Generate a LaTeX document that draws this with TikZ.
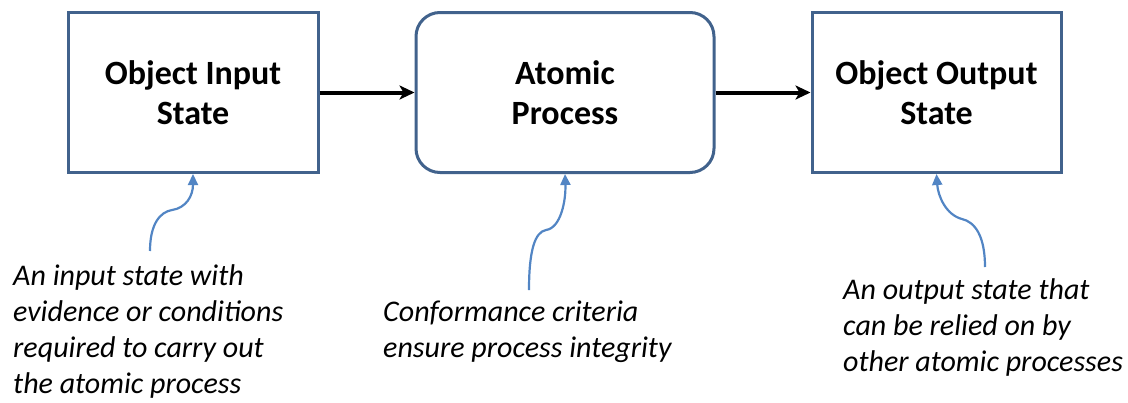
\documentclass[tikz,border=0pt]{standalone}
\usepackage{fontspec}
\setmainfont{Carlito}
\usetikzlibrary{arrows.meta}
\definecolor{boxline}{HTML}{41628C}
\definecolor{notearrow}{HTML}{5285C4}
\tikzset{
  statebox/.style={draw=boxline, line width=3pt, fill=white, minimum height=160pt,
    align=center, inner sep=0pt, font=\fontsize{34}{40}\selectfont\bfseries},
  flow/.style={line width=4pt, -{Stealth[length=15pt,width=14pt,inset=4pt]}},
  note/.style={anchor=north west, align=left, inner sep=0pt,
    font=\fontsize{30}{36}\selectfont\itshape},
  pointer/.style={draw=notearrow, line width=2.2pt, -{Triangle[length=11pt,width=10pt]}}
}
\begin{document}
\begin{tikzpicture}[x=1pt,y=-1pt]
\useasboundingbox (0,0) rectangle (1128,402);

% process chain
\node[statebox, minimum width=250pt] (in) at (193,92.5) {Object Input\\State};
\node[statebox, minimum width=298pt, rounded corners=24pt] (proc) at (565,92.5) {Atomic\\Process};
\node[statebox, minimum width=249pt] (out) at (936.5,92.5) {Object Output\\State};

\draw[flow] (in.east) -- (proc.west);
\draw[flow] (proc.east) -- (out.west);

% explanatory notes
\node[note] (nin) at (13,264) {An input state with\\evidence or conditions\\required to carry out\\the atomic process};
\node[note] (nproc) at (383,301) {Conformance criteria\\ensure process integrity};
\node[note] (nout) at (843,278) {An output state that\\can be relied on by\\other atomic processes};

% curly pointers from the notes to the boxes
\coordinate (pin) at (150,251);
\coordinate (pproc) at (529,290);
\coordinate (pout) at (985,267);

\draw[pointer] (pin) .. controls (150,224) and (160,212) .. (172,210)
  .. controls (186,208) and (193,196) .. (in.south);
\draw[pointer] (pproc) .. controls (529,250) and (535,232) .. (546,230)
  .. controls (561,228) and (566,200) .. (proc.south);
\draw[pointer] (pout) .. controls (985,236) and (975,222) .. (962,219)
  .. controls (946,215) and (938,196) .. (out.south);
\end{tikzpicture}
\end{document}
